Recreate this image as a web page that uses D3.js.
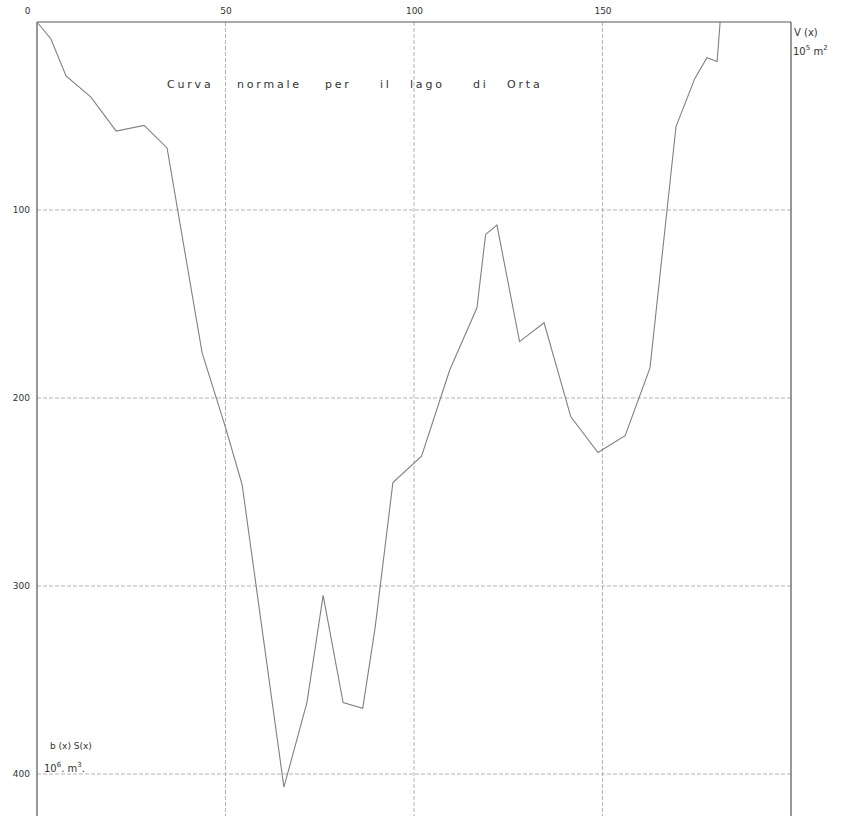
<!DOCTYPE html>
<html>
<head>
<meta charset="utf-8">
<script src="https://cdn.jsdelivr.net/npm/d3@7"></script>
<style>
  body { margin: 0; background: #fff; }
  .lbl { font-family: "DejaVu Sans", sans-serif; fill: #333; }
  .grid { stroke: #b5b5b5; stroke-width: 1; stroke-dasharray: 4,2; }
  .frame { stroke: #555; stroke-width: 1.2; }
</style>
</head>
<body>
<div id="chart-area"></div>
<script>
// curve: position along lake (x) and value (y, downwards)
var posX = [0, 3.7, 7.7, 14.3, 21, 28.4, 34.5, 43.8, 49.9, 54.4, 65.5, 71.6, 75.9, 81.2, 86.4, 89.7,
            94.4, 102, 109.5, 116.7, 119, 122, 128, 134.5, 141.6, 148.8, 156, 162.6, 169.5, 174.5, 177.7, 180.4, 181.2];
var valY = [0, 9, 28.7, 40, 58, 55, 67, 176, 215, 246, 407, 362, 305, 362, 365, 322,
            245, 231, 185, 152, 113, 108, 170, 160, 210, 229, 220, 184, 55.6, 30, 19, 21, 0];
var xTicks = [0, 50, 100, 150];
var yTicks = [100, 200, 300, 400];
var titleWords = ["Curva", "normale", "per", "il", "lago", "di", "Orta"];
var titleWordX = [167, 237, 325, 380, 410, 473, 507];

var width = 850, height = 816;

var svg = d3.select("#chart-area").append("svg")
    .attr("width", width)
    .attr("height", height);

var x = d3.scaleLinear().domain([0, 200]).range([37, 791]);
var y = d3.scaleLinear().domain([0, 400]).range([22, 774]);

// grid lines
svg.selectAll("line.vgrid")
    .data(xTicks.slice(1))
    .enter().append("line")
    .attr("class", "grid")
    .attr("x1", function (d) { return x(d); })
    .attr("x2", function (d) { return x(d); })
    .attr("y1", y(0))
    .attr("y2", height);

svg.selectAll("line.hgrid")
    .data(yTicks)
    .enter().append("line")
    .attr("class", "grid")
    .attr("x1", x(0))
    .attr("x2", x(200))
    .attr("y1", function (d) { return y(d); })
    .attr("y2", function (d) { return y(d); });

// frame
svg.append("line").attr("class", "frame")
    .attr("x1", x(0)).attr("x2", x(0)).attr("y1", y(0)).attr("y2", height);
svg.append("line").attr("class", "frame")
    .attr("x1", x(0)).attr("x2", x(200)).attr("y1", y(0)).attr("y2", y(0));
svg.append("line").attr("class", "frame")
    .attr("x1", x(200)).attr("x2", x(200)).attr("y1", y(0)).attr("y2", height);

// axes (labels only)
var topAxis = svg.append("g")
    .attr("transform", "translate(0," + (y(0) - 5) + ")")
    .call(d3.axisTop(x).tickValues(xTicks).tickSize(0));
topAxis.select(".domain").remove();
topAxis.selectAll("text")
    .attr("class", "lbl")
    .style("font-size", "9px")
    .attr("dx", function (d) { return d === 0 ? -10 : 0; });

var leftAxis = svg.append("g")
    .attr("transform", "translate(" + (x(0) - 4) + ",0)")
    .call(d3.axisLeft(y).tickValues(yTicks).tickSize(0));
leftAxis.select(".domain").remove();
leftAxis.selectAll("text")
    .attr("class", "lbl")
    .style("font-size", "9px");

// curve
var line = d3.line()
    .x(function (d, i) { return x(posX[i]); })
    .y(function (d) { return y(d); });

svg.append("path")
    .datum(valY)
    .attr("d", line)
    .attr("fill", "none")
    .attr("stroke", "#808080")
    .attr("stroke-width", 1.1);

// title, word by word as plotted
var title = svg.append("text")
    .attr("class", "lbl")
    .attr("y", 88)
    .style("font-size", "11px")
    .style("letter-spacing", "2.8px");
title.selectAll("tspan")
    .data(titleWords)
    .enter().append("tspan")
    .attr("x", function (d, i) { return titleWordX[i]; })
    .text(function (d) { return d; });

// unit labels
var vl = svg.append("text").attr("class", "lbl").style("font-size", "10px");
vl.append("tspan").attr("x", 794).attr("y", 36).text("V (x)");
var vu = svg.append("text").attr("class", "lbl").style("font-size", "10px").attr("x", 793).attr("y", 55);
vu.append("tspan").text("10");
vu.append("tspan").attr("dy", -5).style("font-size", "7px").text("5");
vu.append("tspan").attr("dy", 5).text(" m");
vu.append("tspan").attr("dy", -5).style("font-size", "7px").text("2");

svg.append("text").attr("class", "lbl").style("font-size", "9px")
    .attr("x", 50).attr("y", 749).text("b (x)  S(x)");
var bu = svg.append("text").attr("class", "lbl").style("font-size", "10px").attr("x", 44).attr("y", 772);
bu.append("tspan").text("10");
bu.append("tspan").attr("dy", -5).style("font-size", "7px").text("6");
bu.append("tspan").attr("dy", 5).text(".  m");
bu.append("tspan").attr("dy", -5).style("font-size", "7px").text("3");
bu.append("tspan").attr("dy", 5).text(".");
</script>
</body>
</html>
